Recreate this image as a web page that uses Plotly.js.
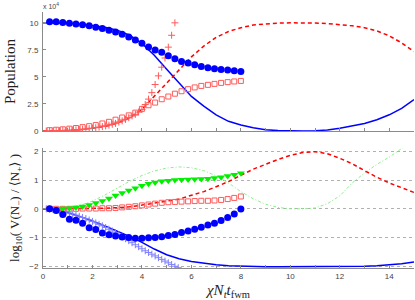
<!DOCTYPE html>
<html><head><meta charset="utf-8">
<script src="https://cdn.plot.ly/plotly-3.0.1.min.js"></script>
<style>html,body{margin:0;padding:0;background:#fff}#plot{width:415px;height:300px}</style>
</head><body><div id="plot"></div>
<script>
// ---- shared x grids ----
const xLine = [0,0.5,1,1.5,2,2.5,3,3.5,4,4.5,5,5.5,6,6.5,7,7.5,8,8.5,9,9.5,10,10.5,11,11.5,12,12.5,13,13.5,14,14.5,15];
const xDots = [0.267,0.533,0.8,1.067,1.333,1.6,1.867,2.133,2.4,2.667,2.933,3.2,3.467,3.733,4.0,4.267,4.533,4.8,5.067,5.333,5.6,5.867,6.133,6.4,6.667,6.933,7.2,7.467,7.733,8.0];
const xPlusTop = [0.133,0.267,0.4,0.533,0.667,0.8,0.933,1.067,1.2,1.333,1.467,1.6,1.733,1.867,2.0,2.133,2.267,2.4,2.533,2.667,2.8,2.933,3.067,3.2,3.333,3.467,3.6,3.733,3.867,4.0,4.133,4.267,4.4,4.533,4.667,4.8,4.933,5.067,5.2,5.333];
const xPlusBot = [0.133,0.267,0.4,0.533,0.667,0.8,0.933,1.067,1.2,1.333,1.467,1.6,1.733,1.867,2.0,2.133,2.267,2.4,2.533,2.667,2.8,2.933,3.067,3.2,3.333,3.467,3.6,3.733,3.867,4.0,4.133,4.267,4.4,4.533,4.667,4.8,4.933,5.067,5.2,5.333,5.467];

// ---- top panel: population (units of 10^4) ----
const popMinusLine = [10.0,9.99,9.95,9.88,9.77,9.6,9.32,8.85,8.1,7.0,5.7,4.45,3.2,2.3,1.5,0.9,0.55,0.3,0.12,0.04,0.0,0.0,0.03,0.1,0.25,0.45,0.7,1.05,1.5,2.1,2.9];
const popPlusLine = [0.0,0.02,0.06,0.13,0.25,0.42,0.72,1.2,2.0,3.2,4.5,5.7,6.85,7.85,8.65,9.2,9.55,9.8,9.92,9.98,10.0,10.0,9.98,9.93,9.85,9.72,9.55,9.25,8.8,8.15,7.35];
const popMinusDots = [10.1,10.1,10.03,9.97,9.9,9.83,9.72,9.6,9.47,9.32,9.15,8.95,8.7,8.42,8.12,7.76,7.49,7.27,6.96,6.69,6.43,6.29,6.13,5.97,5.85,5.76,5.69,5.64,5.57,5.51];
const popPlusSquares = [0.08,0.12,0.16,0.22,0.28,0.36,0.45,0.55,0.7,0.85,1.05,1.25,1.45,1.7,2.05,2.38,2.63,2.94,3.19,3.45,3.68,3.87,4.03,4.17,4.27,4.36,4.45,4.52,4.58,4.63];
const popPlusCross = [0.0,0.01,0.02,0.03,0.04,0.05,0.06,0.08,0.1,0.12,0.14,0.17,0.2,0.23,0.27,0.31,0.36,0.41,0.47,0.54,0.62,0.71,0.82,0.94,1.08,1.24,1.4,1.55,1.75,2.0,2.45,2.95,3.55,4.3,5.1,5.9,6.75,7.75,8.85,10.0];

// ---- bottom panel: log10(V(N-)/<N+>) ----
const logBlueLine = [0,-0.03,-0.13,-0.27,-0.42,-0.6,-0.78,-0.96,-1.17,-1.4,-1.6,-1.74,-1.83,-1.9,-1.95,-1.98,-2.0,-2.01,-2.02,-2.02,-2.02,-2.02,-2.02,-2.02,-2.01,-2.01,-2.0,-1.98,-1.95,-1.91,-1.85];
const logRedLine = [0,0,0,0.01,0.01,0.02,0.04,0.07,0.13,0.2,0.26,0.34,0.47,0.6,0.77,0.95,1.17,1.38,1.55,1.72,1.86,1.96,1.99,1.92,1.76,1.57,1.33,1.1,0.9,0.73,0.57];
const logGreenLine = [0,0.01,0.04,0.12,0.27,0.48,0.72,0.96,1.16,1.32,1.42,1.46,1.43,1.33,1.15,0.9,0.6,0.35,0.16,0.05,0.0,0.0,0.03,0.18,0.45,0.9,1.25,1.55,1.8,2.1,2.4];
const logBlueDots = [0.0,-0.06,-0.2,-0.36,-0.4,-0.5,-0.66,-0.72,-0.84,-0.9,-0.95,-0.98,-1.0,-1.02,-1.02,-1.01,-1.0,-0.97,-0.93,-0.89,-0.82,-0.77,-0.71,-0.64,-0.56,-0.5,-0.41,-0.3,-0.18,-0.01];
const logGreenTri = [0.0,0.0,0.01,0.02,0.05,0.08,0.13,0.2,0.27,0.36,0.46,0.55,0.64,0.72,0.8,0.87,0.92,0.96,0.98,1.0,1.01,1.02,1.03,1.04,1.05,1.07,1.1,1.14,1.19,1.24];
const logRedSquares = [0.0,0.0,0.0,0.0,0.0,0.01,0.01,0.01,0.02,0.02,0.03,0.05,0.07,0.09,0.12,0.15,0.18,0.21,0.23,0.24,0.25,0.26,0.27,0.28,0.28,0.29,0.31,0.34,0.38,0.43];
const logBlueCross = [0.0,-0.01,-0.02,-0.035,-0.055,-0.08,-0.11,-0.145,-0.18,-0.22,-0.26,-0.3,-0.34,-0.39,-0.44,-0.49,-0.54,-0.59,-0.65,-0.71,-0.77,-0.83,-0.9,-0.97,-1.04,-1.11,-1.18,-1.25,-1.32,-1.39,-1.46,-1.52,-1.58,-1.64,-1.7,-1.76,-1.82,-1.88,-1.94,-2.0,-2.05];

const topTicks = [0,2.5,5,7.5,10];
const topTickText = ['0','2.5','5','7.5','10'];
const botTicks = [-2,-1,0,1,2];

const BLUE='#0000ff', RED='#ff0000', LRED='#ff5a5a', GREEN='#00f000', LGREEN='#8cf08c', LBLUE='#8080ff';

const traces = [
  // top
  {x:xLine, y:popMinusLine, xaxis:'x2', yaxis:'y2', mode:'lines', line:{color:BLUE,width:1.5}},
  {x:xLine, y:popPlusLine, xaxis:'x2', yaxis:'y2', mode:'lines', line:{color:RED,width:1.5,dash:'4px,3px'}},
  {x:xPlusTop, y:popPlusCross, xaxis:'x2', yaxis:'y2', mode:'markers', marker:{symbol:'cross-thin-open',size:5,color:LRED,line:{color:LRED,width:1}}},
  {x:xDots, y:popPlusSquares, xaxis:'x2', yaxis:'y2', mode:'markers', marker:{symbol:'square-open',size:5,color:LRED,line:{color:LRED,width:1}}},
  {x:xDots, y:popMinusDots, xaxis:'x2', yaxis:'y2', mode:'markers', marker:{symbol:'circle',size:7,color:BLUE}},
  // bottom
  {x:xLine, y:logGreenLine, xaxis:'x', yaxis:'y', mode:'lines', line:{color:LGREEN,width:1,dash:'3px,2px,1px,2px'}},
  {x:xLine, y:logRedLine, xaxis:'x', yaxis:'y', mode:'lines', line:{color:RED,width:1.5,dash:'4px,3px'}},
  {x:xLine, y:logBlueLine, xaxis:'x', yaxis:'y', mode:'lines', line:{color:BLUE,width:1.5}},
  {x:xPlusBot, y:logBlueCross, xaxis:'x', yaxis:'y', mode:'markers', marker:{symbol:'cross-thin-open',size:5,color:LBLUE,line:{color:LBLUE,width:1}}},
  {x:xDots, y:logRedSquares, xaxis:'x', yaxis:'y', mode:'markers', marker:{symbol:'square-open',size:5,color:LRED,line:{color:LRED,width:1}}},
  {x:xDots, y:logGreenTri, xaxis:'x', yaxis:'y', mode:'markers', marker:{symbol:'triangle-down',size:7,color:GREEN}},
  {x:xDots, y:logBlueDots, xaxis:'x', yaxis:'y', mode:'markers', marker:{symbol:'circle',size:7,color:BLUE}}
];

const AX = '#8a8a8a';
const tickFont = {family:'Liberation Sans, Arial, sans-serif', size:8, color:'#444'};
const serif = 'Liberation Serif, DejaVu Serif, serif';

const layout = {
  width:415, height:300,
  margin:{l:43, r:1, t:12, b:32},
  paper_bgcolor:'#fff', plot_bgcolor:'#fff',
  showlegend:false,
  xaxis:{domain:[0,1], anchor:'y', range:[0,15], tickvals:[0,2,4,6,8,10,12,14], ticks:'inside', ticklen:3, tickcolor:AX,
    minor:{tickvals:[1,3,5,7,9,11,13,15], ticks:'inside', ticklen:3, tickcolor:AX},
    showline:true, linecolor:AX, linewidth:1, showgrid:false, zeroline:false, tickfont:tickFont,
    title:{text:'<i>χN<sub>t</sub>t</i><sub>fwm</sub>', font:{family:serif, size:15, color:'#222'}, standoff:4}},
  yaxis:{domain:[0,0.469], anchor:'x', range:[-2.06,2.12], tickvals:botTicks, ticks:'inside', ticklen:3, tickcolor:AX,
    showline:true, linecolor:AX, linewidth:1, showgrid:true, gridcolor:'#b0b0b0', griddash:'dot', gridwidth:1, zeroline:false,
    tickfont:tickFont, ticklabelstandoff:2,
    title:{text:'log<sub>10</sub>( V(N<sub>−</sub>) / ⟨N<sub>+</sub>⟩ )', font:{family:serif, size:13, color:'#222'}, standoff:6}},
  xaxis2:{domain:[0,1], anchor:'y2', range:[0,15], dtick:1, ticks:'inside', ticklen:3, tickcolor:AX, showticklabels:false,
    showline:true, linecolor:AX, linewidth:1, showgrid:false, zeroline:false},
  yaxis2:{domain:[0.535,1], anchor:'x2', range:[0,11], tickvals:topTicks, ticktext:topTickText, ticks:'inside', ticklen:3, tickcolor:AX,
    showline:true, linecolor:AX, linewidth:1, showgrid:false, zeroline:false, tickfont:tickFont, ticklabelstandoff:2,
    title:{text:'Population', font:{family:serif, size:15, color:'#222'}, standoff:8}},
  annotations:[
    {xref:'paper', yref:'paper', x:0, y:1, xanchor:'left', yanchor:'bottom', xshift:-2, yshift:0,
     text:'x 10<sup>4</sup>', showarrow:false, font:{family:'Liberation Sans, Arial, sans-serif', size:7, color:'#444'}}
  ]
};

Plotly.newPlot('plot', traces, layout, {displayModeBar:false, staticPlot:true});
</script>
</body></html>
